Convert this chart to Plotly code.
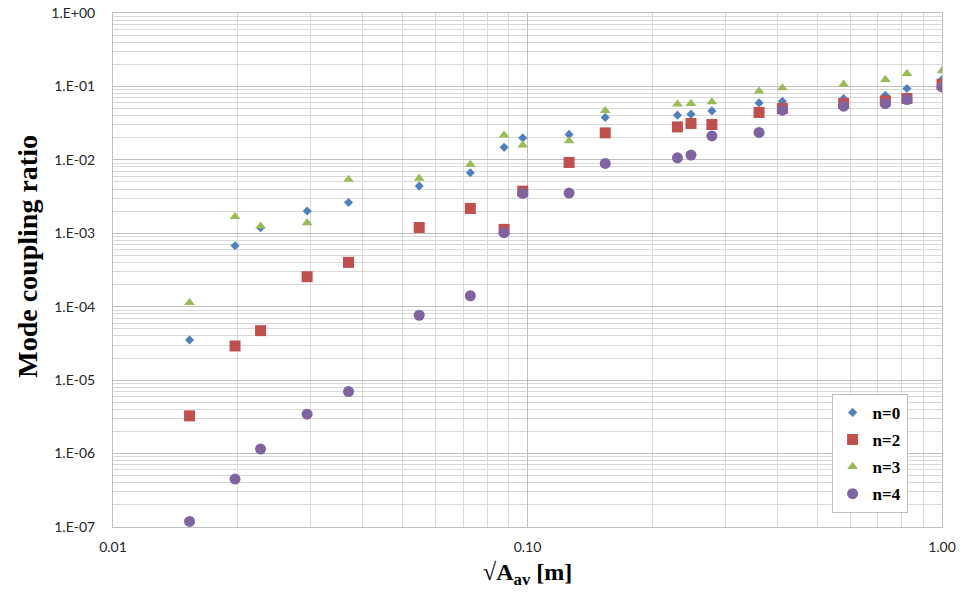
import plotly.graph_objects as go

# x values: sqrt(A_av) [m]
x_vals = [0.0153, 0.0197, 0.0227, 0.0294, 0.0370, 0.0548, 0.0728, 0.0878, 0.0974,
          0.126, 0.154, 0.230, 0.248, 0.2785, 0.362, 0.412, 0.579, 0.730, 0.823, 1.0]

n0 = [3.53e-5, 6.77e-4, 1.19e-3, 2.01e-3, 2.63e-3, 4.39e-3, 6.66e-3, 1.48e-2, 1.99e-2,
      2.22e-2, 3.78e-2, 4.06e-2, 4.19e-2, 4.64e-2, 5.97e-2, 6.29e-2, 6.85e-2, 7.59e-2, 9.37e-2, 0.124]
n2 = [3.26e-6, 2.92e-5, 4.72e-5, 2.56e-4, 4.02e-4, 1.20e-3, 2.18e-3, 1.13e-3, 3.75e-3,
      9.22e-3, 2.33e-2, 2.81e-2, 3.13e-2, 3.03e-2, 4.42e-2, 5.01e-2, 5.85e-2, 6.35e-2, 6.85e-2, 0.107]
n3 = [1.135e-4, 1.68e-3, 1.25e-3, 1.39e-3, 5.42e-3, 5.59e-3, 8.66e-3, 2.17e-2, 1.59e-2,
      1.81e-2, 4.67e-2, 5.73e-2, 5.85e-2, 6.15e-2, 8.61e-2, 9.54e-2, 0.107, 0.124, 0.150, 0.163]
n4 = [1.19e-7, 4.49e-7, 1.15e-6, 3.44e-6, 6.98e-6, 7.65e-5, 1.41e-4, 1.02e-3, 3.49e-3,
      3.53e-3, 8.94e-3, 1.065e-2, 1.16e-2, 2.12e-2, 2.36e-2, 4.75e-2, 5.38e-2, 5.85e-2, 6.64e-2, 9.85e-2]

series_names = ["n=0", "n=2", "n=3", "n=4"]
series_values = [n0, n2, n3, n4]

y_tick_vals = [1e-7, 1e-6, 1e-5, 1e-4, 1e-3, 1e-2, 1e-1, 1e0]
y_tick_text = ["1.E-07", "1.E-06", "1.E-05", "1.E-04", "1.E-03", "1.E-02", "1.E-01", "1.E+00"]
x_tick_vals = [0.01, 0.1, 1.0]
x_tick_text = ["0.01", "0.10", "1.00"]

colors = ["#4F81BD", "#C0504D", "#9BBB59", "#8064A2"]
symbols = ["diamond", "square", "triangle-up", "circle"]
sizes = [7, 11, 9.5, 11]

fig = go.Figure()
for name, vals, c, s, sz in zip(series_names, series_values, colors, symbols, sizes):
    fig.add_trace(go.Scatter(
        x=x_vals, y=vals, mode="markers", name=name, legendgroup=name,
        marker=dict(color=c, symbol=s, size=sz, line=dict(width=0)),
    ))

minor_y = [m * 10.0 ** e for e in range(-7, 0) for m in range(2, 10)]
minor_x = [m * 10.0 ** e for e in range(-2, 0) for m in range(2, 10)]

tick_font = dict(family="Lato, Open Sans, sans-serif", size=14, color="#262626")
serif_bold = dict(family="Liberation Serif, Times New Roman, serif", weight="bold", color="#000000")

fig.update_layout(
    width=964, height=596,
    margin=dict(l=113, r=22, t=13, b=69),
    paper_bgcolor="white", plot_bgcolor="white",
    showlegend=True,
    legend=dict(
        x=0.9585, y=0.259, xanchor="right", yanchor="top",
        bgcolor="white", bordercolor="#BFBFBF", borderwidth=1,
        font=dict(size=17, **serif_bold), traceorder="grouped",
        tracegroupgap=2, itemwidth=30,
    ),
    xaxis=dict(
        type="log", range=[-2, 0], tickmode="array", tickvals=x_tick_vals, ticktext=x_tick_text,
        showgrid=True, gridcolor="#BFBFBF", gridwidth=1, automargin=False,
        showline=True, linecolor="#BFBFBF", linewidth=1, mirror=True,
        ticks="", tickfont=tick_font, ticklabelstandoff=7, zeroline=False,
        minor=dict(tickmode="array", tickvals=minor_x, showgrid=True, gridcolor="#D9D9D9", gridwidth=1, ticks=""),
    ),
    yaxis=dict(
        type="log", range=[-7, 0], tickmode="array", tickvals=y_tick_vals, ticktext=y_tick_text,
        showgrid=True, gridcolor="#BFBFBF", gridwidth=1, automargin=False,
        showline=True, linecolor="#BFBFBF", linewidth=1, mirror=True,
        ticks="", tickfont=tick_font, ticklabelstandoff=14, zeroline=False,
        minor=dict(tickmode="array", tickvals=minor_y, showgrid=True, gridcolor="#D9D9D9", gridwidth=1, ticks=""),
    ),
    annotations=[
        dict(text="Mode coupling ratio", xref="paper", yref="paper", x=-0.103, y=0.527,
             xanchor="center", yanchor="middle", textangle=-90, showarrow=False,
             font=dict(size=28, **serif_bold)),
        dict(text="√A<sub>av</sub> [m]", xref="paper", yref="paper", x=0.5, y=-0.092,
             xanchor="center", yanchor="middle", showarrow=False,
             font=dict(size=24, **serif_bold)),
    ],
)

fig.write_html(
    "out.html",
    config={"displayModeBar": False},
    post_script="document.body.style.margin='0';document.body.style.overflow='hidden';",
)
